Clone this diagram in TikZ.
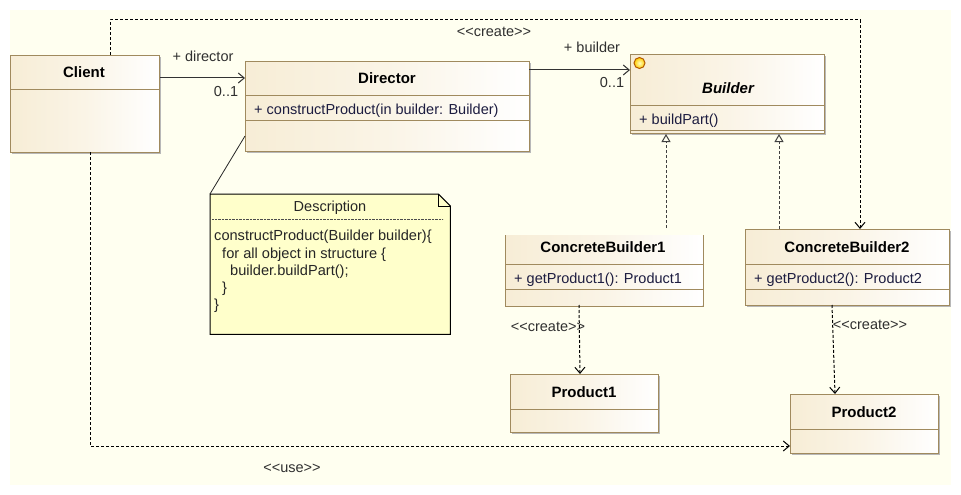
\documentclass[tikz,border=0pt]{standalone}
\usepackage{fontspec}
\setmainfont{Liberation Sans}
\usetikzlibrary{positioning, arrows.meta, shadows, calc}
\definecolor{canvascolor}{HTML}{FFFFF0}
\definecolor{classedge}{HTML}{A08A5E}
\definecolor{classtint}{HTML}{F7EDD6}
\definecolor{notefill}{HTML}{FFFFCB}
\definecolor{opertext}{HTML}{1C1C40}
\definecolor{labeltext}{HTML}{303030}
\tikzset{%
  classbox/.style={draw=classedge, line width=1pt, left color=classtint, right color=white,
    middle color=classtint!60, rectangle, inner sep=0pt, anchor=north west,
    general shadow={fill=black!28, shadow xshift=1.5pt, shadow yshift=-1.5pt}}, % the grey rim
  classline/.style={draw=classedge, line width=1pt},
  classname/.style={font=\fontsize{15}{17}\selectfont\bfseries, inner sep=0pt},
  classoper/.style={font=\fontsize{14.5}{17}\selectfont, text=opertext, inner sep=0pt, anchor=west},
  umllabel/.style={font=\fontsize{14.5}{17}\selectfont, text=labeltext, inner sep=0pt},
  assoc/.style={draw=black!80, line width=1pt, -{Straight Barb[length=6pt, width=10pt]}},
  usedash/.style={draw=black, line width=1pt, dash pattern=on 3pt off 2pt, -{Straight Barb[length=6pt, width=10pt]}},
  realize/.style={draw=black!75, line width=1pt, dash pattern=on 3pt off 2pt,
    -{Triangle[open, length=8pt, width=9pt, fill=canvascolor]}}
}

\begin{document}
\begin{tikzpicture}[x=1pt, y=-1pt]
\useasboundingbox (0,0) rectangle (961,495);
\fill[canvascolor] (10,10) rectangle (951,485);

\node[classbox, minimum width=149pt, minimum height=97pt] (client) at (10,55) {};
\node[classbox, minimum width=284pt, minimum height=90pt] (director) at (245,61) {};
\node[classbox, minimum width=194pt, minimum height=79pt] (builder) at (630,54) {};
\node[classbox, draw=none, minimum width=197pt, minimum height=70pt] (cb1) at (505,235) {};
\node[classbox, minimum width=204pt, minimum height=76pt] (cb2) at (745,229) {};
\node[classbox, minimum width=148pt, minimum height=58pt] (product1) at (510,374) {};
\node[classbox, minimum width=148pt, minimum height=59pt] (product2) at (790,394) {};
\draw[classline] (cb1.north west) -- (cb1.south west) -- (cb1.south east) -- (cb1.north east);

\node[classname] (clientname) at (84,72) {Client};
\node[classname] (directorname) at (387,78) {Director};
\node[classname, font=\fontsize{15}{17}\selectfont\bfseries\itshape] (buildername) at (728,88) {Builder};
\node[classname] (cb1name) at (603,247) {ConcreteBuilder1};
\node[classname] (cb2name) at (847,247) {ConcreteBuilder2};
\node[classname] (product1name) at (584,392) {Product1};
\node[classname] (product2name) at (864,412) {Product2};

\node[classoper] (directoroper) at (254,111) {+ constructProduct(in builder: Builder)};
\node[classoper] (builderoper) at (639,121) {+ buildPart()};
\node[classoper] (cb1oper) at (514,280) {+ getProduct1(): Product1};
\node[classoper] (cb2oper) at (754,280) {+ getProduct2(): Product2};

\draw[classline] (client.west |- 0,89) -- (client.east |- 0,89);
\draw[classline] (director.west |- 0,95) -- (director.east |- 0,95);
\draw[classline] (director.west |- 0,120) -- (director.east |- 0,120);
\draw[classline] (builder.west |- 0,105) -- (builder.east |- 0,105);
\draw[classline] (builder.west |- 0,130) -- (builder.east |- 0,130);
\draw[classline] (cb1.west |- 0,264) -- (cb1.east |- 0,264);
\draw[classline] (cb1.west |- 0,289) -- (cb1.east |- 0,289);
\draw[classline] (cb2.west |- 0,264) -- (cb2.east |- 0,264);
\draw[classline] (cb2.west |- 0,289) -- (cb2.east |- 0,289);
\draw[classline] (product1.west |- 0,409) -- (product1.east |- 0,409);
\draw[classline] (product2.west |- 0,429) -- (product2.east |- 0,429);

\node[circle, draw=black!30!orange, line width=1pt, inner sep=0pt, minimum size=11pt,
  shading=radial, inner color=yellow!25, outer color=yellow!60!orange] (buildermark) at (639.5,63) {};

% the note
\node[inner sep=0pt, minimum width=240pt, minimum height=140pt, anchor=north west] (note) at (210,194) {};
\draw[fill=notefill, line width=1pt] (note.north west) -- ([xshift=-12pt]note.north east)
  -- ([yshift=-12pt]note.north east) -- (note.south east) -- (note.south west) -- cycle;
\draw[line width=.8pt] ([xshift=-12pt]note.north east) |- ([yshift=-12pt]note.north east);
\node[umllabel, text=black!85] (notetitle) at (330,208) {Description};
\draw[black!70, densely dotted] (212,219) -- (443,219);
\node[umllabel, text=black!85, align=left, anchor=north west, font=\fontsize{14.6}{17.3}\selectfont]
  (notebody) at (214,230) {constructProduct(Builder builder)\{\\
  \hspace*{8pt}for all object in structure \{\\
  \hspace*{16pt}builder.buildPart();\\
  \hspace*{8pt}\}\\
  \}};
\coordinate (notelink) at (245,136);
\draw[black!85, line width=.8pt] (notelink) -- (note.north west);

% connectors
\coordinate (clientup) at (110,55);
\coordinate (clientdown) at (90,152);
\coordinate (directorin) at (245,78);
\coordinate (directorout) at (529,70);
\coordinate (builderin) at (630,70);
\coordinate (cb2in) at (860,229);
\coordinate (product2in) at (790,446);
\draw[assoc] (client.east |- directorin) -- (directorin);
\draw[assoc] (directorout) -- (builderin);
\draw[usedash] (clientup) -- (110,20) -| (cb2in);
\draw[usedash] (clientdown) |- (product2in);
\draw[realize] (cb1.north -| 666,0) ++(0,-7) -- (666,134);
\draw[realize] (cb2.north -| 779,0) -- (779,134);
\draw[usedash] (579,305) -- (580,374);
\draw[usedash] (832,305) -- (835,394);

\node[umllabel] (directorrole) at (203,56) {+ director};
\node[umllabel] (directormult) at (226,92) {0..1};
\node[umllabel] (builderrole) at (592,47) {+ builder};
\node[umllabel] (buildermult) at (612,83) {0..1};
\node[umllabel] (createtop) at (494,32) {<{}<create>{}>};
\node[umllabel] (createone) at (548,327) {<{}<create>{}>};
\node[umllabel] (createtwo) at (870,325) {<{}<create>{}>};
\node[umllabel] (uselabel) at (292,468) {<{}<use>{}>};

\end{tikzpicture}
\end{document}
